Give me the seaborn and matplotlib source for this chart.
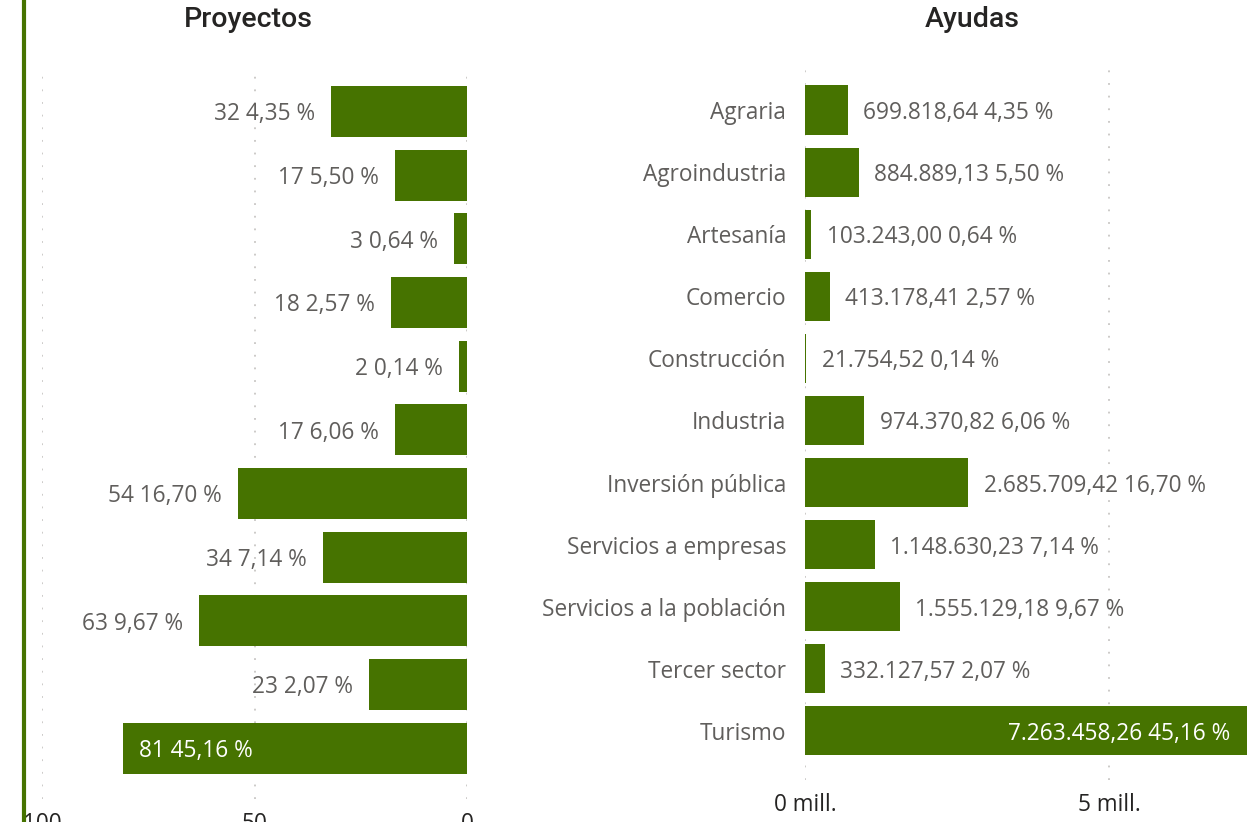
import matplotlib
matplotlib.use('Agg')
import matplotlib.pyplot as plt
import seaborn as sns
import pandas as pd

# ------------------------------------------------------------
# datos
# ------------------------------------------------------------
categorias = ['Agraria', 'Agroindustria', 'Artesanía', 'Comercio', 'Construcción',
              'Industria', 'Inversión pública', 'Servicios a empresas',
              'Servicios a la población', 'Tercer sector', 'Turismo']
proyectos = [32, 17, 3, 18, 2, 17, 54, 34, 63, 23, 81]
ayudas = [699818.64, 884889.13, 103243.00, 413178.41, 21754.52, 974370.82,
          2685709.42, 1148630.23, 1555129.18, 332127.57, 7263458.26]
porcentajes = [4.35, 5.50, 0.64, 2.57, 0.14, 6.06, 16.70, 7.14, 9.67, 2.07, 45.16]

ticks_proyectos = [100, 50, 0]
ticks_ayudas = [0, 5_000_000]
etiquetas_ayudas = ['0 mill.', '5 mill.']

df = pd.DataFrame({'categoria': categorias, 'proyectos': proyectos,
                   'ayudas': ayudas, 'pct': porcentajes})

VERDE = '#467300'
GRIS = '#605E5C'
OSCURO = '#252423'
W, H = 1260, 822
FS = 16.3


def es(x, dec=2):
    s = f"{x:,.{dec}f}"
    return s.replace(',', 'X').replace('.', ',').replace('X', '.')


sns.set_theme(style='white')
plt.rcParams['font.family'] = ['Open Sans', 'DejaVu Sans']

fig = plt.figure(figsize=(W / 100, H / 100), dpi=100)

def px_axes(x0, x1, y0, y1):
    return fig.add_axes([x0 / W, 1 - y1 / H, (x1 - x0) / W, (y1 - y0) / H])

ax1 = px_axes(42, 467, 68, 799)
ax2 = px_axes(805, 1260, 60, 780)

# ------------------------------------------------------------
# Proyectos
# ------------------------------------------------------------
sns.barplot(data=df, x='proyectos', y='categoria', color=VERDE, saturation=1,
            width=0.8, linewidth=0, ax=ax1)
ax1.set_xlim(100, 0)
ax1.set_ylim(10.8, -0.683)
ax1.set_xticks(ticks_proyectos)
ax1.set_xticklabels([str(t) for t in ticks_proyectos], fontsize=FS, color=OSCURO)
ax1.set_yticks([])
ax1.set_xlabel('')
ax1.set_ylabel('')

for i, (v, p) in enumerate(zip(proyectos, porcentajes)):
    txt = f"{v} {es(p)} %"
    if v > 70:
        ax1.annotate(txt, (v, i), xytext=(11.5, 0), textcoords='offset points',
                     ha='left', va='center_baseline', fontsize=FS, color='white')
    else:
        ax1.annotate(txt, (v, i), xytext=(-11.5, 0), textcoords='offset points',
                     ha='right', va='center_baseline', fontsize=FS, color=GRIS)

# ------------------------------------------------------------
# Ayudas
# ------------------------------------------------------------
sns.barplot(data=df, x='ayudas', y='categoria', color=VERDE, saturation=1,
            width=0.79, linewidth=0, ax=ax2)
ax2.set_xlim(0, 7.48e6)
ax2.set_ylim(10.79, -0.805)
ax2.set_xticks(ticks_ayudas)
ax2.set_xticklabels(etiquetas_ayudas, fontsize=FS, color=OSCURO)
ax2.set_xlabel('')
ax2.set_ylabel('')
ax2.tick_params(axis='y', labelsize=FS, labelcolor=GRIS, length=0, pad=13.5)

for i, (v, p) in enumerate(zip(ayudas, porcentajes)):
    txt = f"{es(v)} {es(p)} %"
    if v > 5e6:
        ax2.annotate(txt, (v, i), xytext=(-12, 0), textcoords='offset points',
                     ha='right', va='center_baseline', fontsize=FS, color='white')
    else:
        ax2.annotate(txt, (v, i), xytext=(11, 0), textcoords='offset points',
                     ha='left', va='center_baseline', fontsize=FS, color=GRIS)

for ax, pad in ((ax1, 9), (ax2, 9.5)):
    for s in ax.spines.values():
        s.set_visible(False)
    ax.xaxis.grid(True, color='#C8C6C4', linestyle=(0, (1, 6)), linewidth=1.3)
    ax.set_axisbelow(True)
    ax.tick_params(axis='x', length=0, pad=pad)

# titulos
fig.text(248 / W, 1 - 27 / H, 'Proyectos', ha='center', va='baseline',
         fontsize=20.5, color=OSCURO, family='Roboto', fontweight='medium')
fig.text(972 / W, 1 - 27 / H, 'Ayudas', ha='center', va='baseline',
         fontsize=20.5, color=OSCURO, family='Roboto', fontweight='medium')

# barra lateral verde
fig.add_artist(plt.Line2D([24 / W, 24 / W], [0, 1], transform=fig.transFigure,
                          color=VERDE, linewidth=3))

fig.savefig('out.png', dpi=100)
